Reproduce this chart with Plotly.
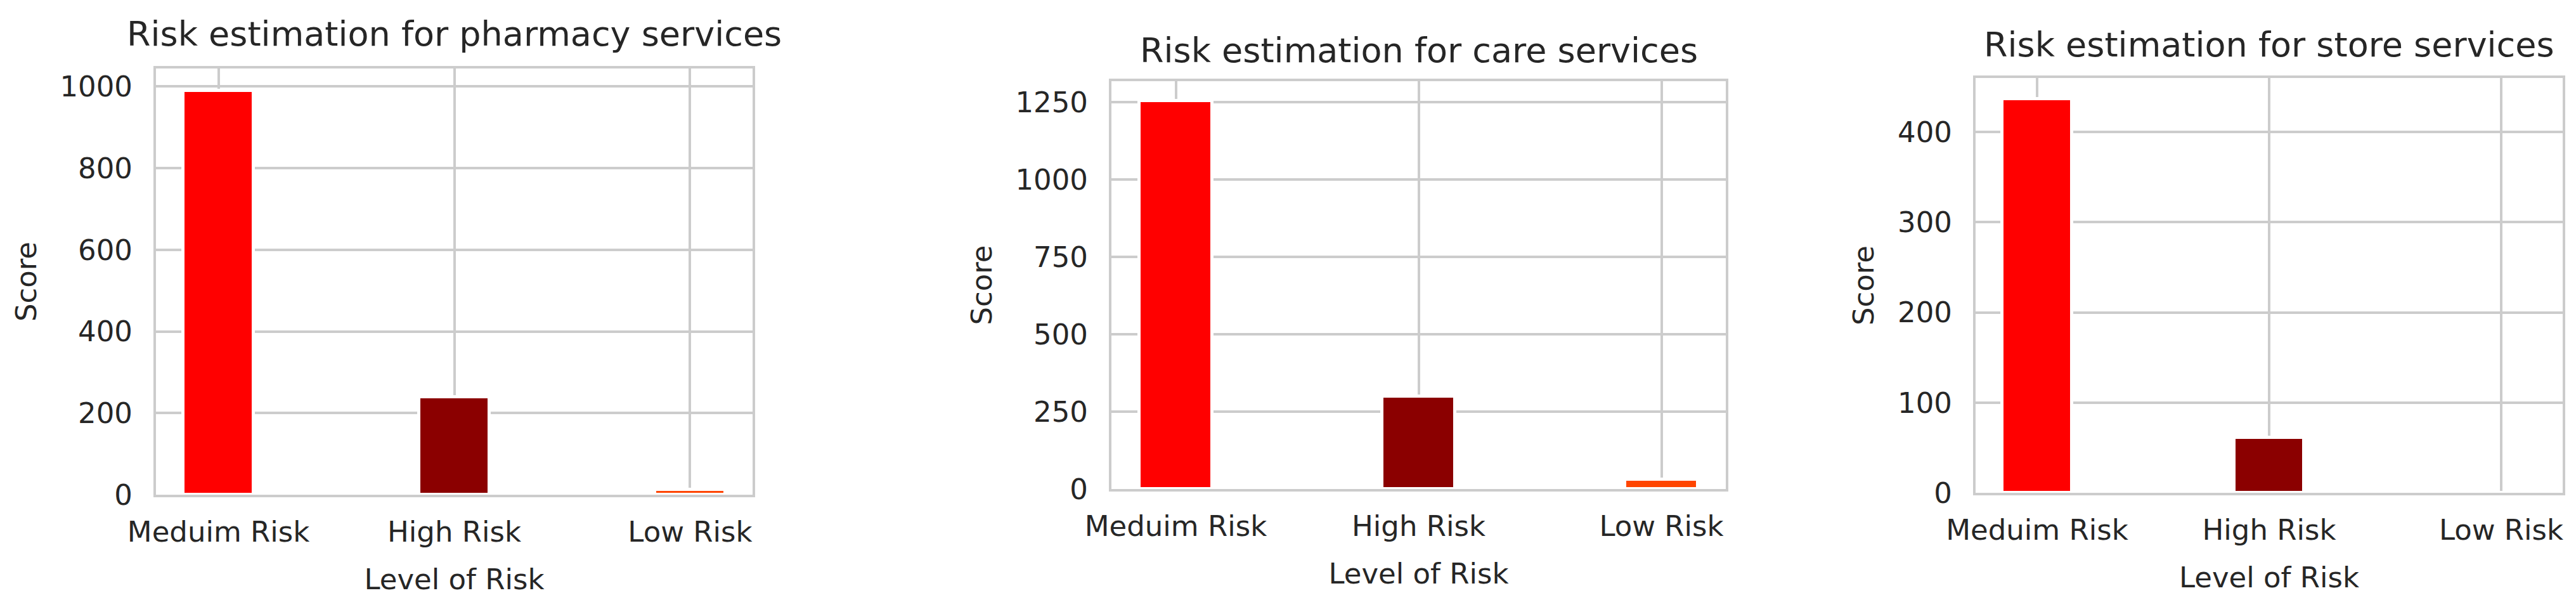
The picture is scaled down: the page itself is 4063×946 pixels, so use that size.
import plotly.graph_objects as go

categories = ["Meduim Risk", "High Risk", "Low Risk"]
pharmacy_scores = [990, 240, 12]
care_scores = [1255, 299, 30]
store_scores = [437, 61, 0]
bar_colors = ["#FF0000", "#8B0000", "#FF4500"]

titles = ["Risk estimation for pharmacy services",
          "Risk estimation for care services",
          "Risk estimation for store services"]
dticks = [200, 250, 100]
y_tops = [1044, 1318, 460]

W, H = 4063, 946
# plot-area pixel boxes: (left, right, top, bottom)
boxes = [(238, 1179, 100, 772), (1745, 2714, 120, 763), (3108, 4034, 115, 769)]
title_baselines = [65, 91, 82]

TXT = "#262626"
GRID = "#cccccc"
FONT = "DejaVu Sans"

fig = go.Figure()
series = [pharmacy_scores, care_scores, store_scores]
annotations = []
for i, (vals, box) in enumerate(zip(series, boxes)):
    n = "" if i == 0 else str(i + 1)
    fig.add_trace(go.Bar(
        x=categories, y=vals, width=0.3,
        marker=dict(color=bar_colors, line=dict(color="white", width=5)),
        xaxis="x" + n, yaxis="y" + n, showlegend=False,
    ))
    l, r, t, b = box
    common = dict(
        showline=True, mirror=True, linecolor=GRID, linewidth=4,
        showgrid=True, gridcolor=GRID, gridwidth=4, zeroline=False,
        ticks="", automargin=False, layer="above traces",
        tickfont=dict(family=FONT, size=45, color=TXT),
    )
    fig.update_layout(**{
        "xaxis" + n: dict(
            domain=[l / W, r / W], anchor="y" + n,
            range=[-0.265, 2.265], type="category",
            ticklabelstandoff=16,
            title=dict(text="Level of Risk", font=dict(family=FONT, size=45, color=TXT), standoff=34),
            **common),
        "yaxis" + n: dict(
            domain=[1 - b / H, 1 - t / H], anchor="x" + n,
            range=[0, y_tops[i]], tick0=0, dtick=dticks[i],
            ticklabelstandoff=24,
            title=dict(text="Score", font=dict(family=FONT, size=45, color=TXT), standoff=24),
            **common),
    })
    annotations.append(dict(
        text=titles[i], xref="paper", yref="paper",
        x=(l + r) / 2 / W, y=1 - (title_baselines[i] + 14) / H,
        xanchor="center", yanchor="bottom", showarrow=False,
        font=dict(family=FONT, size=54, color=TXT),
    ))

fig.update_layout(
    width=W, height=H, margin=dict(l=0, r=0, t=0, b=0, autoexpand=False),
    paper_bgcolor="white", plot_bgcolor="white",
    annotations=annotations, bargap=0,
)
fig.write_html("out.html")
